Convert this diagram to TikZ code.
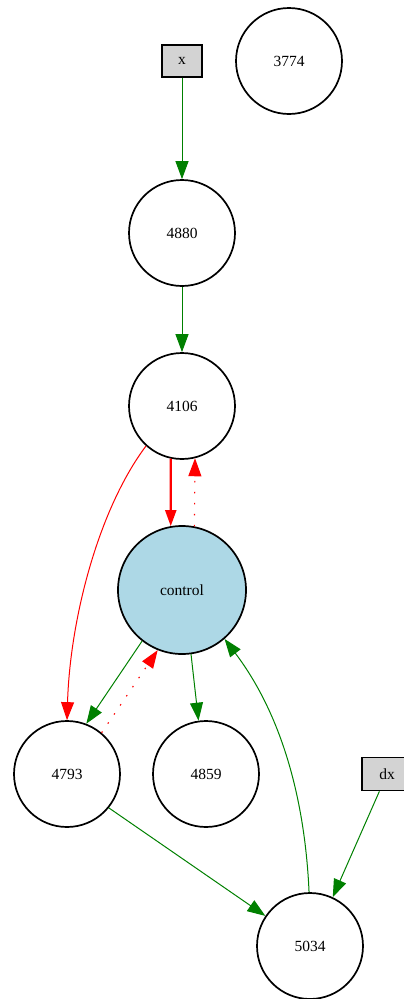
\documentclass[tikz,border=0pt]{standalone}
\usepackage{fontspec}
\setmainfont{Liberation Serif}
\usetikzlibrary{arrows.meta}
\begin{document}
\begin{tikzpicture}[x=1pt,y=-1pt,
  every node/.style={font=\fontsize{15.5}{18}\selectfont, inner sep=0pt},
  nd/.style={circle, draw=black, line width=1.7pt, minimum size=106pt, fill=white},
  ctl/.style={circle, draw=black, line width=1.7pt, minimum size=128pt, fill={rgb,255:red,173;green,216;blue,230}},
  inbox/.style={rectangle, draw=black, line width=1.7pt, minimum width=40pt, minimum height=32pt, fill={rgb,255:red,211;green,211;blue,211}},
  tip/.style={-{Triangle[length=18pt,width=13pt]}},
  gedge/.style={tip, draw={rgb,255:red,0;green,128;blue,0}, line width=1pt},
  redge/.style={tip, draw=red, line width=1pt},
  dotedge/.style={-{Triangle[length=18pt,width=13pt,sep=0pt]}, draw=red, line width=1.1pt, dash pattern=on 1.5pt off 9.5pt},
]
\useasboundingbox (0,0) rectangle (404,999);
\node[inbox] (x) at (182,61) {x};
\node[nd] (n3774) at (289,61) {3774};
\node[nd] (n4880) at (182,233) {4880};
\node[nd] (n4106) at (182,406) {4106};
\node[ctl] (ctrl) at (182,590) {control};
\node[nd] (n4793) at (67,774) {4793};
\node[nd] (n4859) at (206,774) {4859};
\node[inbox, minimum width=50pt, minimum height=33pt] (dx) at (387,774) {dx};
\node[nd] (n5034) at (310,946) {5034};

\draw[gedge] (x) -- (n4880);
\draw[gedge] (n4880) -- (n4106);
\draw[redge, line width=2.2pt, -{Triangle[length=16pt,width=11pt]}] (n4106.-102) -- (ctrl.100);
\draw[dotedge] (ctrl.79) -- (n4106.-76);
\draw[redge] (n4106.-132) .. controls (98,510) and (70,620) .. (n4793.north);
\draw[gedge] (ctrl.-128) -- (n4793.69);
\draw[dotedge] (n4793.50) -- (ctrl.-112);
\draw[gedge] (ctrl.-82) -- (n4859.98);
\draw[gedge] (n4793.-39) -- (n5034.146);
\draw[gedge] (n5034.91) .. controls (305,800) and (282,715) .. (ctrl.-49);
\draw[gedge] (dx) -- (n5034.65);
\end{tikzpicture}
\end{document}
